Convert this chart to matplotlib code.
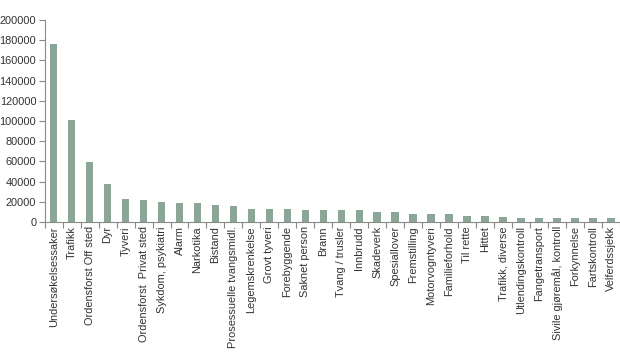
import matplotlib.pyplot as plt
import numpy as np

plt.rcParams['font.family'] = ['Liberation Sans', 'DejaVu Sans']

# categories and counts
categories = ['Undersøkelsessaker', 'Trafikk', 'Ordensforst Off sted', 'Dyr', 'Tyveri',
              'Ordensforst  Privat sted', 'Sykdom, psykiatri', 'Alarm', 'Narkotika', 'Bistand',
              'Prosessuelle tvangsmidl.', 'Legemskrenkelse', 'Grovt tyveri', 'Forebyggende',
              'Saknet person', 'Brann', 'Tvang / trusler', 'Innbrudd', 'Skadeverk',
              'Spesiallover', 'Fremstilling', 'Motorvogntyveri', 'Familieforhold', 'Til rette',
              'Hittet', 'Trafikk, diverse', 'Utlendingskontroll', 'Fangetransport',
              'Sivile gjøremål, kontroll', 'Forkynnelse', 'Fartskontroll', 'Velferdssjekk']
counts = [176000, 101500, 59500, 37400, 22500, 22300, 19800, 18500, 18500, 17200,
          15900, 13300, 13300, 13300, 11800, 11700, 11700, 11700, 10300, 10300,
          7600, 7600, 7600, 6300, 6300, 5000, 3700, 3700, 3700, 3700, 3700, 3700]
yticks = np.arange(0, 200001, 20000)

fig = plt.figure(figsize=(6.2, 3.64), dpi=100)
ax = fig.add_axes([0.072, 0.39, 0.928, 0.555])

x = np.arange(len(categories))
ax.bar(x, counts, width=0.42, color='#8ba696')

ax.set_xlim(-0.5, len(categories) - 0.5)
ax.set_ylim(0, 200000)
ax.set_yticks(yticks)
ax.set_yticklabels([str(v) for v in yticks], fontsize=7.9, color='#333333')

ax.set_xticks(x)
ax.set_xticklabels(categories, rotation=90, fontsize=7.9, color='#333333')
ax.tick_params(axis='x', length=0, pad=3)
ax.set_xticks(np.arange(-0.5, len(categories), 1), minor=True)
ax.tick_params(axis='x', which='minor', length=4, color='#888888', width=0.8)
ax.tick_params(axis='y', length=4, color='#888888', width=0.8, pad=2)

for s in ['top', 'right']:
    ax.spines[s].set_visible(False)
for s in ['left', 'bottom']:
    ax.spines[s].set_color('#888888')
    ax.spines[s].set_linewidth(0.8)

fig.savefig('out.png', dpi=100)
